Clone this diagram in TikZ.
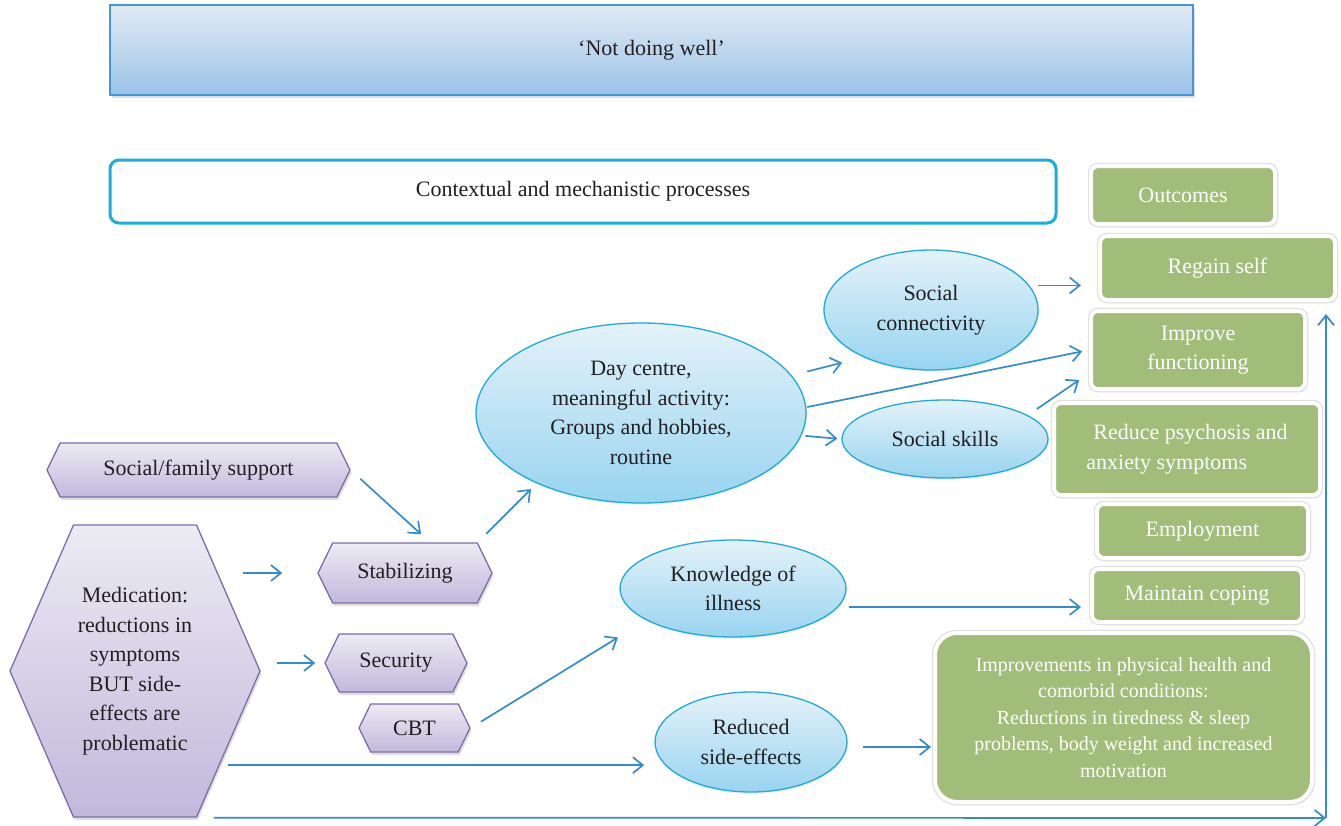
\documentclass[tikz,border=0pt]{standalone}
\usepackage{fontspec}
\setmainfont{Liberation Serif}
\usetikzlibrary{shapes.geometric, shapes.symbols, shadows, arrows.meta}

\definecolor{inkdark}{RGB}{35,31,32}
\definecolor{flowblue}{RGB}{52,140,205}
\definecolor{bubbleline}{RGB}{31,170,215}
\definecolor{bubbletop}{RGB}{228,242,249}
\definecolor{bubblebot}{RGB}{152,212,240}
\definecolor{outgreen}{RGB}{162,189,122}
\definecolor{hextop}{RGB}{236,235,243}
\definecolor{hexbot}{RGB}{194,184,220}
\definecolor{hexline}{RGB}{125,108,170}
\definecolor{bannertop}{RGB}{226,234,244}
\definecolor{bannerbot}{RGB}{155,195,232}
\definecolor{bannerline}{RGB}{70,150,215}
\definecolor{ctxline}{RGB}{25,175,220}

\begin{document}
\begin{tikzpicture}[x=1pt,y=1pt,yscale=-1,
    every node/.style={font=\fontsize{22}{29.5}\selectfont, text=inkdark, align=center, inner sep=0pt},
    banner/.style={rectangle, draw=bannerline, line width=1.5pt, top color=bannertop, bottom color=bannerbot,
        drop shadow={opacity=0.25, shadow xshift=2pt, shadow yshift=-3pt}},
    ctxbox/.style={rectangle, draw=ctxline, line width=3pt, rounded corners=9pt, fill=white},
    outbox/.style={rectangle, rounded corners=7pt, fill=outgreen, draw=white, line width=4pt, text=white,
        drop shadow={opacity=0.3, shadow xshift=2pt, shadow yshift=-3pt},
        preaction={draw=black!12, line width=6.5pt}},
    bubble/.style={ellipse, draw=bubbleline, line width=1.3pt, top color=bubbletop, bottom color=bubblebot,
        drop shadow={opacity=0.12, shadow xshift=1pt, shadow yshift=-2pt}},
    hexbox/.style={signal, signal to=east and west, signal pointer angle=128, draw=hexline, line width=1.3pt,
        top color=hextop, bottom color=hexbot, drop shadow={opacity=0.25, shadow xshift=1.5pt, shadow yshift=-3pt}},
    flow/.style={draw=flowblue, line width=1.7pt, -{Straight Barb[length=10pt,width=16pt]}}]
    \useasboundingbox (0,0) rectangle (1341,825);

    % Headers
    \node[banner, minimum width=1083, minimum height=90] (notwell) at (651.5,50) {‘Not doing well’};
    \node[ctxbox, minimum width=946, minimum height=63] (ctx) at (583,191.5) {Contextual and mechanistic processes};

    % Outcomes column
    \node[outbox, minimum width=184, minimum height=58] (outc) at (1183,195) {Outcomes};
    \node[outbox, minimum width=235, minimum height=64] (regain) at (1217.5,268) {Regain self};
    \node[outbox, minimum width=214, minimum height=78] (improve) at (1198,350) {Improve\\functioning};
    \node[outbox, minimum width=266, minimum height=92, align=left] (reduce) at (1187,449) {\hspace*{7pt}Reduce psychosis and\\anxiety symptoms};
    \node[outbox, minimum width=211, minimum height=54] (employ) at (1202.5,531) {Employment};
    \node[outbox, minimum width=210, minimum height=53] (maintain) at (1197,595.5) {Maintain coping};
    \node[outbox, minimum width=377, minimum height=169, rounded corners=22pt, font=\fontsize{20}{26.5}\selectfont] (impr) at (1123.5,717.5)
        {Improvements in physical health and\\comorbid conditions:\\Reductions in tiredness \& sleep\\problems, body weight and increased\\motivation};

    % Processes (ellipses)
    \node[bubble, minimum width=330, minimum height=180] (day) at (641,413) {Day centre,\\meaningful activity:\\Groups and hobbies,\\routine};
    \node[bubble, minimum width=214, minimum height=120] (conn) at (931,310) {Social\\connectivity};
    \node[bubble, minimum width=206, minimum height=78] (skills) at (945,439) {Social skills};
    \node[bubble, minimum width=226, minimum height=97] (know) at (733,588.5) {Knowledge of\\illness};
    \node[bubble, minimum width=192, minimum height=100] (reduced) at (751,742) {Reduced\\side-effects};

    % Context (hexagons)
    \node[hexbox, minimum width=303, minimum height=54] (fam) at (198.5,470) {Social/family support};
    \node[hexbox, minimum width=174, minimum height=60] (stab) at (405,573) {Stabilizing};
    \node[hexbox, minimum width=142, minimum height=58] (secu) at (396,663) {Security};
    \node[hexbox, minimum width=111, minimum height=48] (cbt) at (414.5,728) {CBT};
    \node[hexbox, minimum width=250, minimum height=292, signal pointer angle=133] (med) at (135,671)
        {Medication:\\reductions in\\symptoms\\BUT side-\\effects are\\problematic};

    % Arrows
    \draw[flow, shorten <=13, shorten >=12] (fam.east) -- ([xshift=25]stab.north);
    \draw[flow, shorten <=23, shorten >=35] (stab.west -| med.48) -- (stab.west);
    \draw[flow, shorten <=16, shorten >=9] (secu.west -| med.east) -- (secu.west);
    \draw[flow, shorten <=12, shorten >=8] (stab.north east) -- (day.214);
    \draw[flow, shorten <=16, shorten >=22] (day.14) -- (conn.215);
    \draw[flow, shorten <=1, shorten >=7] (day.2) -- (improve.west);
    \draw[flow, shorten <=4, shorten >=4] (day.352) -- (skills.west);
    \draw[flow, shorten <=9, shorten >=17] (conn.14) -- (conn.14 -| regain.west);
    \draw[flow, shorten <=11, shorten >=12] (skills.16) -- (improve.192);
    \draw[flow, shorten <=12, shorten >=33] (cbt.east) -- (know.200);
    \draw[flow, shorten <=11, shorten >=9] (know.-10) -- (know.-10 -| maintain.west);
    \draw[flow, shorten <=8, shorten >=22] (med.-48) -- (med.-48 -| reduced.196);
    \draw[flow, shorten <=16, shorten >=2] (reduced.-3) -- (reduced.-3 -| impr.west);
    \coordinate (corner) at (1326,818);
    \draw[flow, shorten <=17] (med.south east) -- (corner);
    \draw[flow, shorten >=12] (corner) -- (corner |- regain.south);
\end{tikzpicture}
\end{document}
